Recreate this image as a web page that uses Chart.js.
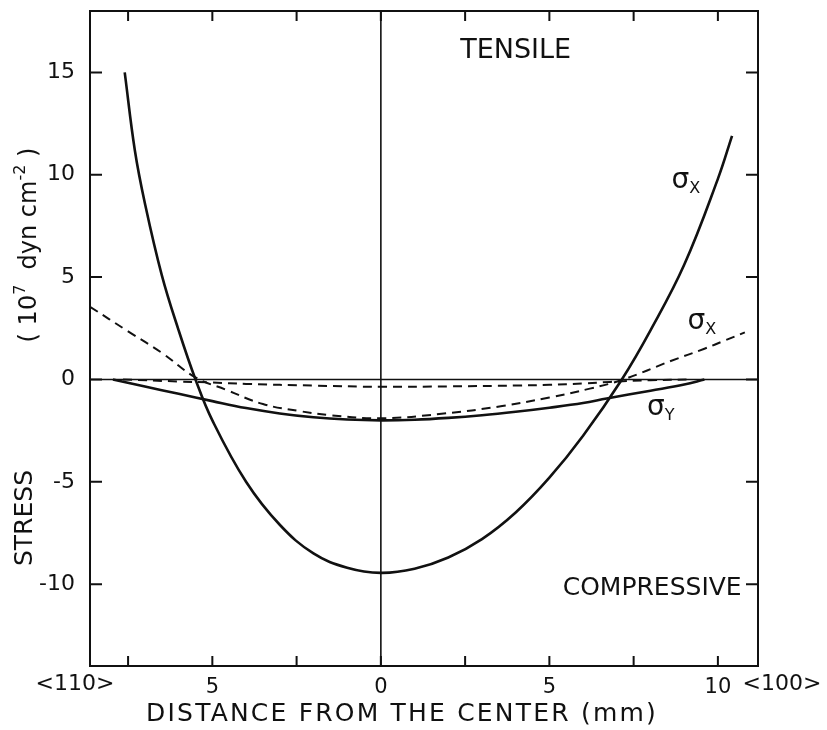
<!DOCTYPE html>
<html>
<head>
<meta charset="utf-8">
<script src="https://cdn.jsdelivr.net/npm/chart.js@4.4.1/dist/chart.umd.min.js"></script>
<style>
  html, body { margin: 0; padding: 0; background: #fff; }
  #wrap { width: 827px; height: 730px; position: relative; }
</style>
</head>
<body>
<div id="wrap"><canvas id="stressChart"></canvas></div>
<script>
// sigma_x, solid curve
var sxSolidX = [-7.6, -7.3, -7.0, -6.5, -6.0, -5.5, -5.0, -4.0, -3.0, -2.0, -1.0, 0, 1, 2, 3, 4, 5, 6, 7.15, 8, 9, 10, 10.42];
var sxSolidY = [15.0, 11.2, 8.6, 5.1, 2.4, 0.0, -2.0, -5.0, -7.1, -8.5, -9.2, -9.45, -9.25, -8.7, -7.8, -6.5, -4.8, -2.75, 0.0, 2.4, 5.6, 9.8, 11.9];

// sigma_y, solid curve
var sySolidX = [-7.95, -7, -6, -5, -4, -3, -2, -1, 0, 1, 2, 3, 4, 5, 6, 6.7, 8, 9, 9.6];
var sySolidY = [0, -0.35, -0.7, -1.06, -1.4, -1.66, -1.85, -1.96, -2.0, -1.97, -1.88, -1.75, -1.58, -1.38, -1.15, -0.93, -0.55, -0.25, 0];

// sigma_x, dashed curve
var sxDashX = [-8.63, -7.5, -6.5, -5.5, -4.6, -3.5, -2.4, -1.5, 0, 1.8, 3.6, 5.0, 6.2, 7.2, 8.6, 9.6, 10.2, 10.8];
var sxDashY = [3.55, 2.35, 1.3, 0.1, -0.5, -1.2, -1.55, -1.75, -1.9, -1.68, -1.3, -0.88, -0.45, 0.0, 0.9, 1.5, 1.9, 2.3];

// sigma_y, dashed curve
var syDashX = [-7.65, -6, -5, -4, -2, 0, 2, 4, 5, 6, 6.8, 8, 9.2];
var syDashY = [0, -0.1, -0.15, -0.22, -0.3, -0.36, -0.34, -0.3, -0.26, -0.2, -0.12, -0.04, 0];

var xMajor = [-5, 0, 5, 10];
var xMinor = [-7.5, -2.5, 2.5, 7.5];
var yMajor = [-10, -5, 0, 5, 10, 15];

var FONT = '"DejaVu Sans", sans-serif';
var INK = '#111';

function pts(xs, ys) {
    return xs.map(function (x, i) { return { x: x, y: ys[i] }; });
}

function curve(xs, ys, dashed) {
    return {
        data: pts(xs, ys),
        showLine: true,
        borderColor: INK,
        borderWidth: dashed ? 2 : 2.6,
        borderDash: dashed ? [9, 6] : [],
        pointRadius: 0,
        tension: 0.4,
        fill: false
    };
}

// draws a row of text pieces, some raised (superscript) or lowered (subscript)
function drawPieces(c, pieces, x, y) {
    pieces.forEach(function (p) {
        c.font = p.size + 'px ' + FONT;
        c.fillText(p.t, x, y + (p.dy || 0));
        x += c.measureText(p.t).width;
    });
}
function piecesWidth(c, pieces) {
    var w = 0;
    pieces.forEach(function (p) {
        c.font = p.size + 'px ' + FONT;
        w += c.measureText(p.t).width;
    });
    return w;
}

var frame = {
    id: 'frame',
    afterDraw: function (chart) {
        var c = chart.ctx, a = chart.chartArea;
        var xs = chart.scales.x, ys = chart.scales.y;
        c.save();
        c.strokeStyle = INK;
        c.fillStyle = INK;

        // box
        c.lineWidth = 2;
        c.strokeRect(a.left, a.top, a.right - a.left, a.bottom - a.top);

        // zero lines
        c.lineWidth = 1.6;
        var y0 = ys.getPixelForValue(0), x0 = xs.getPixelForValue(0);
        c.beginPath();
        c.moveTo(a.left, y0); c.lineTo(a.right, y0);
        c.moveTo(x0, a.top); c.lineTo(x0, a.bottom);
        c.stroke();

        // inward ticks
        c.lineWidth = 2;
        c.beginPath();
        xMajor.concat(xMinor).forEach(function (v) {
            var px = xs.getPixelForValue(v);
            c.moveTo(px, a.bottom); c.lineTo(px, a.bottom - 10);
            c.moveTo(px, a.top); c.lineTo(px, a.top + 10);
        });
        yMajor.forEach(function (v) {
            var py = ys.getPixelForValue(v);
            c.moveTo(a.left, py); c.lineTo(a.left + 12, py);
            c.moveTo(a.right, py); c.lineTo(a.right - 12, py);
        });
        c.stroke();

        // region labels
        c.textBaseline = 'middle';
        c.textAlign = 'center';
        c.font = '27px ' + FONT;
        c.fillText('TENSILE', xs.getPixelForValue(4), ys.getPixelForValue(16.05));
        c.font = '25px ' + FONT;
        c.fillText('COMPRESSIVE', xs.getPixelForValue(8.05), ys.getPixelForValue(-10.2));

        // curve labels
        c.textAlign = 'left';
        c.textBaseline = 'alphabetic';
        drawPieces(c, [{ t: 'σ', size: 28 }, { t: 'X', size: 16, dy: 5 }],
            xs.getPixelForValue(8.62), ys.getPixelForValue(9.35));
        drawPieces(c, [{ t: 'σ', size: 28 }, { t: 'X', size: 16, dy: 5 }],
            xs.getPixelForValue(9.1), ys.getPixelForValue(2.45));
        drawPieces(c, [{ t: 'σ', size: 28 }, { t: 'Y', size: 16, dy: 5 }],
            xs.getPixelForValue(7.9), ys.getPixelForValue(-1.75));

        // direction labels beside the tick labels
        c.font = '22px ' + FONT;
        c.textAlign = 'center';
        c.textBaseline = 'middle';
        c.fillText('<110>', 75, a.bottom + 18);
        c.fillText('<100>', 782, a.bottom + 18);

        // axis titles
        c.font = '25px ' + FONT;
        c.letterSpacing = '2.2px';
        c.fillText('DISTANCE FROM THE CENTER (mm)', 402, a.bottom + 48);
        c.letterSpacing = '0px';

        c.save();
        c.translate(25, 518);
        c.rotate(-Math.PI / 2);
        c.font = '25px ' + FONT;
        c.fillText('STRESS', 0, 0);
        c.restore();

        c.save();
        c.translate(36, 245);
        c.rotate(-Math.PI / 2);
        c.textAlign = 'left';
        c.textBaseline = 'alphabetic';
        var unit = [
            { t: '( 10', size: 24 }, { t: '7', size: 16, dy: -11 },
            { t: '  dyn cm', size: 24 }, { t: '-2', size: 16, dy: -11 },
            { t: ' )', size: 24 }
        ];
        drawPieces(c, unit, -piecesWidth(c, unit) / 2, 0);
        c.restore();

        c.restore();
    }
};

var ctx = document.getElementById('stressChart').getContext('2d');

var stressChart = new Chart(ctx, {
    type: 'scatter',
    data: {
        datasets: [
            curve(sxSolidX, sxSolidY, false),
            curve(sySolidX, sySolidY, false),
            curve(sxDashX, sxDashY, true),
            curve(syDashX, syDashY, true)
        ]
    },
    options: {
        responsive: true,
        maintainAspectRatio: false,
        animation: false,
        devicePixelRatio: 1,
        layout: { padding: { top: 11, right: 69, left: 0, bottom: 0 } },
        plugins: {
            legend: { display: false },
            tooltip: { enabled: false }
        },
        scales: {
            x: {
                type: 'linear',
                min: -8.63,
                max: 11.19,
                grid: { display: false },
                border: { display: false },
                afterBuildTicks: function (s) {
                    s.ticks = xMajor.map(function (v) { return { value: v }; });
                },
                afterFit: function (s) {
                    s.height = 64;
                    s.paddingLeft = 0;
                    s.paddingRight = 0;
                },
                ticks: {
                    color: INK,
                    padding: 1,
                    maxRotation: 0,
                    font: { family: FONT, size: 21 },
                    callback: function (v) { return String(Math.abs(v)); }
                }
            },
            y: {
                type: 'linear',
                min: -14,
                max: 18,
                grid: { display: false },
                border: { display: false },
                afterBuildTicks: function (s) {
                    s.ticks = yMajor.map(function (v) { return { value: v }; });
                },
                afterFit: function (s) {
                    s.width = 90;
                    s.paddingTop = 0;
                    s.paddingBottom = 0;
                },
                ticks: {
                    color: INK,
                    padding: 7,
                    font: { family: FONT, size: 22 },
                    callback: function (v) { return v < 0 ? '-' + Math.abs(v) : String(v); }
                }
            }
        }
    },
    plugins: [frame]
});
</script>
</body>
</html>
